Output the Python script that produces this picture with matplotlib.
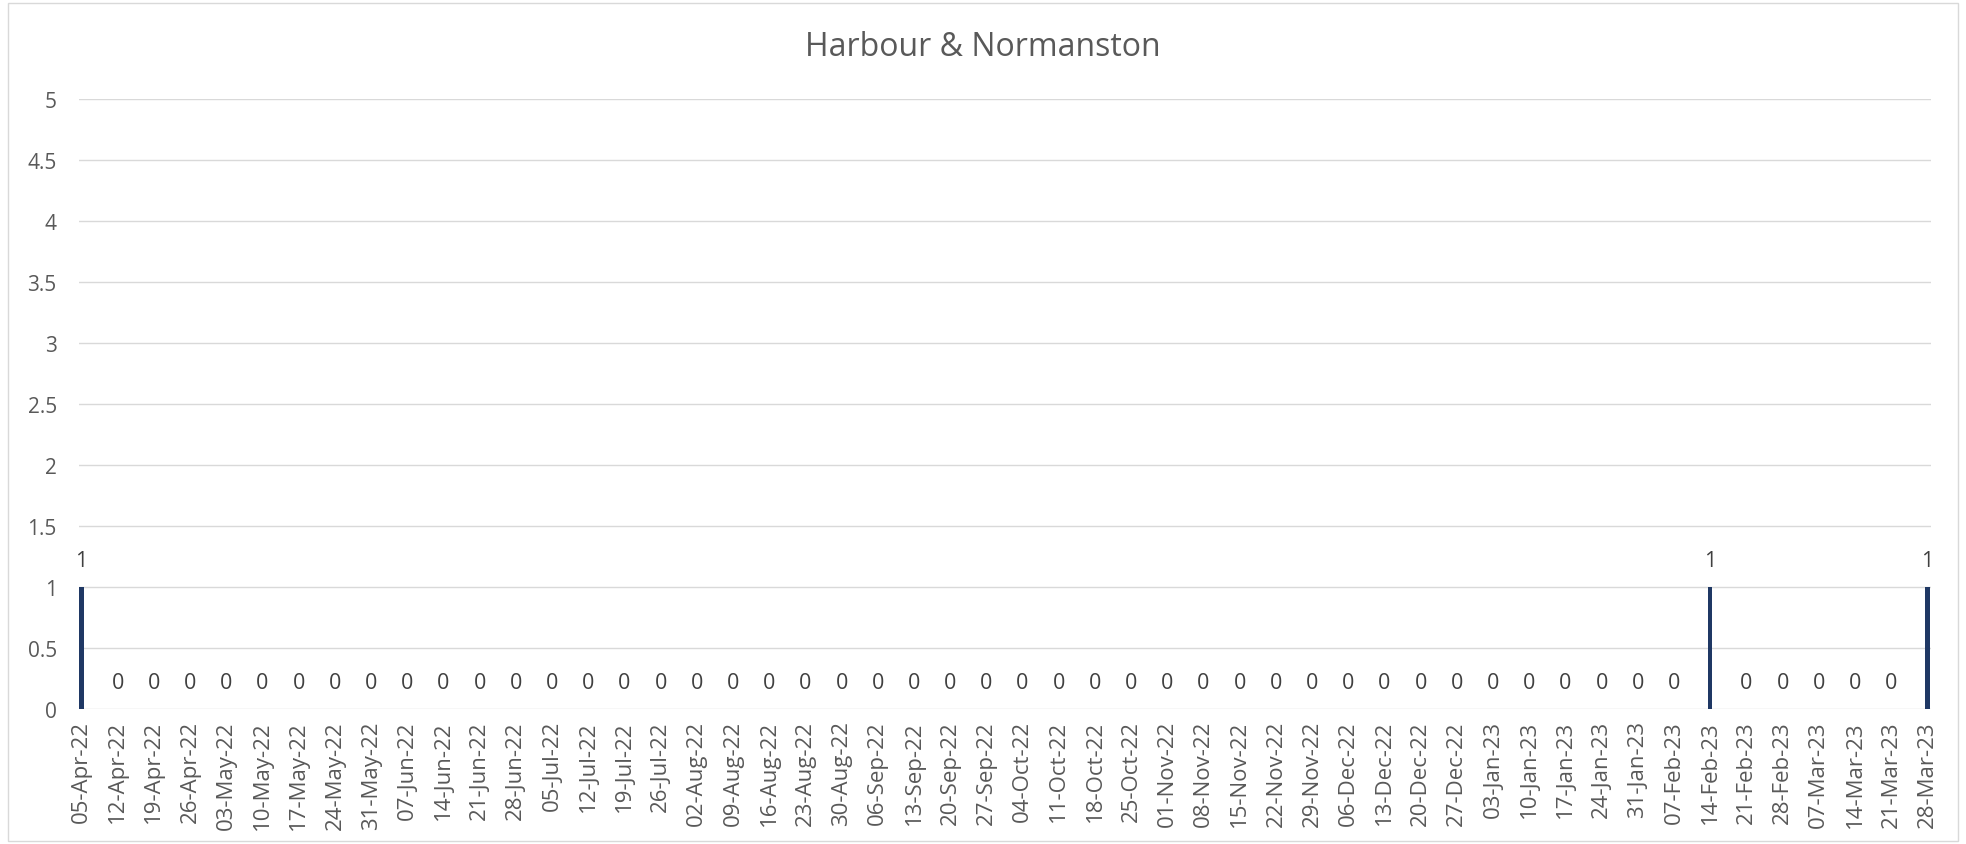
import matplotlib
matplotlib.use("Agg")
import matplotlib.pyplot as plt
from matplotlib.patches import Rectangle
import pandas as pd

categories = [d.strftime("%d-%b-%y") for d in pd.date_range("2022-04-05", "2023-03-28", freq="7D")]
values = [1, 0, 0, 0, 0, 0, 0, 0, 0, 0, 0, 0, 0, 0, 0, 0, 0, 0, 0, 0, 0, 0, 0, 0, 0, 0,
          0, 0, 0, 0, 0, 0, 0, 0, 0, 0, 0, 0, 0, 0, 0, 0, 0, 0, 0, 1, 0, 0, 0, 0, 0, 1]

title = "Harbour & Normanston"
yticks = [0, 0.5, 1, 1.5, 2, 2.5, 3, 3.5, 4, 4.5, 5]
ytick_labels = ["0", "0.5", "1", "1.5", "2", "2.5", "3", "3.5", "4", "4.5", "5"]

plt.rcParams['font.family'] = ['Open Sans', 'DejaVu Sans']

W, H = 1966, 845
fig = plt.figure(figsize=(W / 100, H / 100), dpi=100)
fig.patch.set_facecolor("white")
fig.patches.append(Rectangle((8 / W, 3 / H), (W - 16) / W, (H - 7) / H,
                             transform=fig.transFigure, fill=False,
                             edgecolor="#D9D9D9", linewidth=1.0))

left, right = 79 / W, 1931 / W
bottom, top = (H - 710) / H, (H - 100) / H
ax = fig.add_axes([left, bottom, right - left, top - bottom])

x = list(range(len(categories)))
ax.bar(x, values, width=0.12, color="#1F3864", zorder=3)
for xi, v in zip(x, values):
    ax.annotate(str(v), (xi, v), xytext=(0, 19), textcoords="offset points",
                ha="center", va="center", fontsize=15.5, color="#404040")

ax.set_xlim(-0.07, len(categories) - 1 + 0.1)
ax.set_ylim(0, 5)
ax.set_yticks(yticks)
ax.set_yticklabels(ytick_labels)
ax.set_xticks(x)
ax.set_xticklabels(categories, rotation=90, ha="center", va="top")
ax.tick_params(axis="y", length=0, pad=16, labelsize=15, labelcolor="#595959")
ax.tick_params(axis="x", length=0, pad=8, labelsize=16, labelcolor="#595959")
ax.grid(axis="y", color="#D9D9D9", linewidth=1.0, zorder=0)
for s in ax.spines.values():
    s.set_visible(False)

fig.text(0.5, 1 - 48 / H, title, ha="center", va="center",
         fontsize=23, color="#595959")

fig.savefig("out.png", dpi=100)
